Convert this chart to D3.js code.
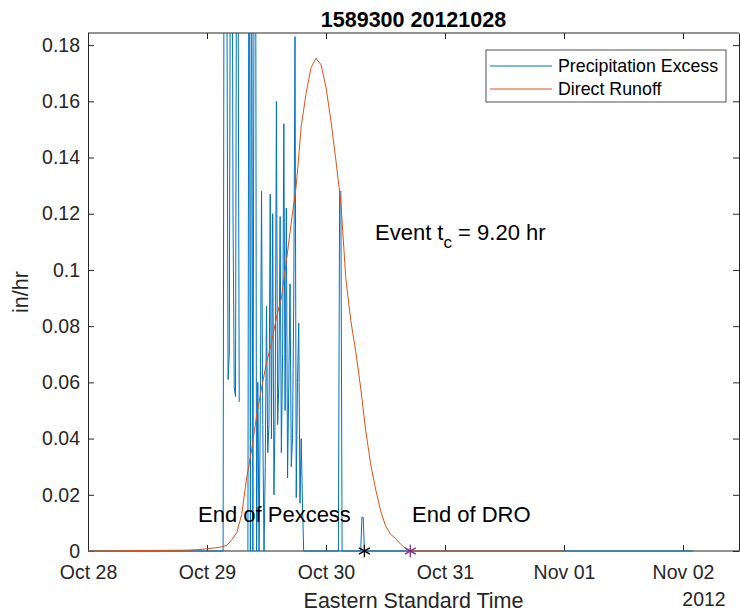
<html>
<head>
  <meta charset="UTF-8">
  <title>1589300 20121028</title>
  <style>
    body { margin: 0; padding: 0; background: #fff; }
    svg { display: block; font-family: "Liberation Sans", Arial, sans-serif; }
    .tick text { fill: #262626; }
  </style>
</head>
<body>
  <div id="chart"></div>
  <script src="https://cdnjs.cloudflare.com/ajax/libs/d3/7.8.4/d3.min.js"></script>
  <script>
    // data (hours counted from Oct 28 2012 00:00)
    const title = "1589300 20121028";
    const xTickDays = ["2012-10-28", "2012-10-29", "2012-10-30", "2012-10-31", "2012-11-01", "2012-11-02"];
    const yTicks = [0, 0.02, 0.04, 0.06, 0.08, 0.1, 0.12, 0.14, 0.16, 0.18];

    // precipitation excess, 15 minute steps from hour 27 (null = missing)
    const pexStartHour = 27;
    const pexStepHours = 0.25;
    const pexValues = [
      0, 0, 0.30, 0.30, 0.21, 0.061, 0.07, 0.25, 0.28, 0.12,
      0.058, 0.055, 0.26, 0.22, 0.053, null, null, null, null, null,
      null, 0, 0.30, 0, 0.25, 0, 0.22, 0.30, 0, 0.06,
      0, 0.05, 0.128, 0.045, 0, 0.03, 0.087, 0.035, 0.045, 0.127,
      0.04, 0.12, 0.02, 0.05, 0.16, 0.045, 0.06, 0.119, 0.035, 0.07,
      0.152, 0.05, 0.122, 0.026, 0.06, 0.095, 0.03, 0.04, 0.09, 0.183,
      0.019, 0.06, 0.081, 0.017, 0.04, 0.017, 0, 0, 0, 0,
      0, 0, 0, 0, 0, 0, 0, 0, 0, 0,
      0, 0, 0, 0, 0, 0, 0, 0, 0, 0,
      0, 0, 0, 0, 0, 0.128, 0.128, 0, 0, 0,
      0, 0, 0, 0, 0, 0, 0, 0, 0, 0,
      0, 0, 0, 0.012, 0.012, 0
    ];
    const pexEndHour = 122; // zero until here

    // direct runoff, hourly from hour 20
    const droStartHour = 20;
    const droValues = [
      0.0003, 0.0004, 0.0005, 0.0006, 0.0008, 0.001, 0.0012, 0.0015, 0.002, 0.004,
      0.0065, 0.013, 0.026, 0.036, 0.048, 0.058, 0.067, 0.074, 0.083, 0.09,
      0.103, 0.117, 0.13, 0.151, 0.163, 0.172, 0.1753, 0.173, 0.165, 0.153,
      0.139, 0.124, 0.097, 0.082, 0.071, 0.058, 0.043, 0.031, 0.022, 0.0145,
      0.009, 0.006, 0.0045, 0.0025, 0.001, 0
    ];
    const droEndHour = 96; // zero until here

    const pexEndMarkHour = 55.75;
    const droEndMarkHour = 65;

    const width = 740, height = 616;
    const margin = { top: 33, right: 1, bottom: 65, left: 88 };
    const t0 = Date.UTC(2012, 9, 28);
    const hourDate = h => new Date(t0 + h * 3600000);

    const x = d3.scaleUtc()
      .domain([hourDate(0), hourDate(131.3)])
      .range([margin.left, width - margin.right]);
    const y = d3.scaleLinear()
      .domain([0, 0.1843])
      .range([height - margin.bottom, margin.top]);

    const svg = d3.select("#chart").append("svg")
      .attr("width", width).attr("height", height);

    svg.append("clipPath").attr("id", "clip")
      .append("rect")
      .attr("x", margin.left).attr("y", margin.top)
      .attr("width", width - margin.left - margin.right)
      .attr("height", height - margin.top - margin.bottom + 1);

    // axes first (data is drawn over them, like MATLAB)
    const xTicks = xTickDays.map(d => new Date(d + "T00:00:00Z"));
    const fmt = d3.utcFormat("%b %d");
    const axisColor = "#262626";

    const xAxis = svg.append("g")
      .attr("transform", `translate(0,${height - margin.bottom})`)
      .call(d3.axisBottom(x).tickValues(xTicks).tickFormat(fmt).tickSizeInner(-6).tickSizeOuter(0).tickPadding(14));
    const xTop = svg.append("g")
      .attr("transform", `translate(0,${margin.top})`)
      .call(d3.axisTop(x).tickValues(xTicks).tickFormat("").tickSizeInner(-6).tickSizeOuter(0));
    const yAxis = svg.append("g")
      .attr("transform", `translate(${margin.left},0)`)
      .call(d3.axisLeft(y).tickValues(yTicks).tickFormat(d => String(+d.toFixed(2))).tickSizeInner(-6).tickSizeOuter(0).tickPadding(8));
    const yRight = svg.append("g")
      .attr("transform", `translate(${width - margin.right},0)`)
      .call(d3.axisRight(y).tickValues(yTicks).tickFormat("").tickSizeInner(-6).tickSizeOuter(0));

    [xAxis, xTop, yAxis, yRight].forEach(g => {
      g.selectAll("path, line").attr("stroke", axisColor);
      g.selectAll("text").attr("font-size", 19.5).attr("font-family", "Liberation Sans, Arial, sans-serif");
    });
    xTop.select(".domain").attr("d", `M${margin.left},0H${width - margin.right}`);
    xAxis.select(".domain").attr("d", `M${margin.left},0H${width - margin.right}`);

    // build series
    const pex = [{ h: 0, v: 0 }];
    pexValues.forEach((v, i) => pex.push({ h: pexStartHour + i * pexStepHours, v: v }));
    pex.push({ h: pexEndHour, v: 0 });

    const dro = [{ h: 0, v: 0 }];
    droValues.forEach((v, i) => dro.push({ h: droStartHour + i, v: v }));
    dro.push({ h: droEndHour, v: 0 });

    const line = d3.line()
      .defined(d => d.v !== null)
      .x(d => x(hourDate(d.h)))
      .y(d => y(d.v));

    const plot = svg.append("g").attr("clip-path", "url(#clip)");
    plot.append("path").datum(pex)
      .attr("fill", "none").attr("stroke", "#0072BD").attr("stroke-width", 1)
      .attr("d", line);
    plot.append("path").datum(dro)
      .attr("fill", "none").attr("stroke", "#D95319").attr("stroke-width", 1)
      .attr("d", line);

    // end markers
    const star = d3.symbol().type(d3.symbolAsterisk).size(110);
    svg.append("path").attr("d", star)
      .attr("transform", `translate(${x(hourDate(pexEndMarkHour))},${y(0)})`)
      .attr("fill", "none").attr("stroke", "#000").attr("stroke-width", 1.3);
    svg.append("path").attr("d", star)
      .attr("transform", `translate(${x(hourDate(droEndMarkHour))},${y(0)})`)
      .attr("fill", "none").attr("stroke", "#7E2F8E").attr("stroke-width", 1.3);

    // title and labels
    svg.append("text").attr("x", (margin.left + width - margin.right) / 2).attr("y", 27)
      .attr("text-anchor", "middle").attr("font-size", 21.5).attr("font-weight", "bold")
      .attr("fill", "#000").text(title);
    svg.append("text").attr("x", (margin.left + width - margin.right) / 2).attr("y", 608)
      .attr("text-anchor", "middle").attr("font-size", 21.5).attr("fill", axisColor)
      .text("Eastern Standard Time");
    svg.append("text").attr("x", 704).attr("y", 606)
      .attr("text-anchor", "middle").attr("font-size", 19.5).attr("fill", axisColor)
      .text("2012");
    svg.append("text")
      .attr("transform", `translate(28,${(margin.top + height - margin.bottom) / 2}) rotate(-90)`)
      .attr("text-anchor", "middle").attr("font-size", 21.5).attr("fill", axisColor)
      .text("in/hr");

    // annotations
    const ev = svg.append("text").attr("x", 375).attr("y", 240)
      .attr("font-size", 22).attr("fill", "#000");
    ev.append("tspan").text("Event t");
    ev.append("tspan").attr("dy", 8).attr("font-size", 17).text("c");
    ev.append("tspan").attr("dy", -8).text(" = 9.20 hr");
    svg.append("text").attr("x", 198).attr("y", 522).attr("font-size", 22).attr("fill", "#000")
      .text("End of Pexcess");
    svg.append("text").attr("x", 412).attr("y", 522).attr("font-size", 22).attr("fill", "#000")
      .text("End of DRO");

    // legend
    const lg = svg.append("g");
    lg.append("rect").attr("x", 486).attr("y", 50).attr("width", 240).attr("height", 52)
      .attr("fill", "#fff").attr("stroke", axisColor).attr("stroke-width", 0.8);
    const legendItems = [
      { name: "Precipitation Excess", color: "#0072BD" },
      { name: "Direct Runoff", color: "#D95319" }
    ];
    legendItems.forEach((d, i) => {
      const cy = 66 + i * 23;
      lg.append("line").attr("x1", 490).attr("x2", 552).attr("y1", cy).attr("y2", cy)
        .attr("stroke", d.color).attr("stroke-width", 1);
      lg.append("text").attr("x", 558).attr("y", cy).attr("dy", "0.35em")
        .attr("font-size", 17.8).attr("fill", "#000").text(d.name);
    });
  </script>
</body>
</html>
